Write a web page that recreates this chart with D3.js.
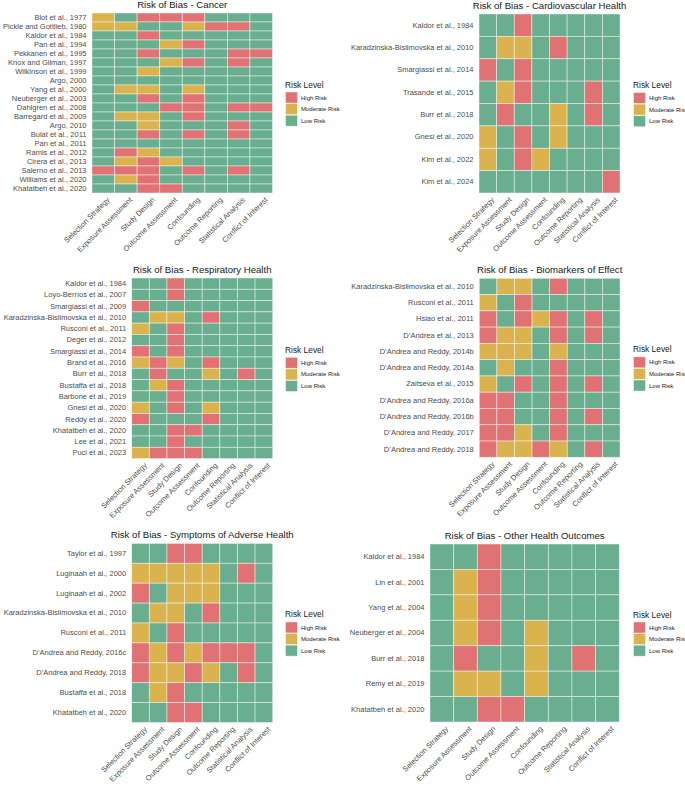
<!DOCTYPE html>
<html><head><meta charset="utf-8">
<script src="https://cdn.jsdelivr.net/npm/d3@7"></script>
<style>
html,body{margin:0;padding:0;background:#fff;}
text{font-family:"Liberation Sans",Arial,sans-serif;}
</style></head>
<body><svg id="c" width="685" height="787"></svg>
<script>
const categories = ["Selection Strategy","Exposure Assessment","Study Design","Outcome Assessment","Confounding","Outcome Reporting","Statistical Analysis","Conflict of Interest"];
const levelCodes = ["H","M","L"];
const levelNames = ["High Risk","Moderate Risk","Low Risk"];
const levelColors = ["#E07274","#DAB34F","#68AE8F"];

const cancerStudies = ["Blot et al., 1977","Pickle and Gottlieb, 1980","Kaldor et al., 1984","Pan et al., 1994","Pekkanen et al., 1995","Knox and Gilman, 1997","Wilkinson et al., 1999","Argo, 2000","Yang et al., 2000","Neuberger et al., 2003","Dahlgren et al., 2008","Barregard et al., 2009","Argo, 2010","Bulat et al., 2011","Pan et al., 2011","Ramis et al., 2012","Cirera et al., 2013","Salerno et al., 2013","Williams et al., 2020","Khatatbeh et al., 2020"];
const cancerRatings = ["MLHHHLLL","MMLLMHHL","LLHLLLLL","LLLMHLLL","LLHLLLHH","LLLMHLHL","LLMLLLLL","LLLLLLLL","LMMLMLLL","LLHLHLLL","LLLHHLHH","LMMLHLLL","LLMLLLHL","LLHLHLHL","LLLLLLLL","LHMLLLLL","LMHMLLLL","HHHLHLHL","LMHLLLLL","LLHHLLLL"];

const cardioStudies = ["Kaldor et al., 1984","Karadzinska-Bislimovska et al., 2010","Smargiassi et al., 2014","Trasande et al., 2015","Burr et al., 2018","Gnesi et al., 2020","Kim et al., 2022","Kim et al., 2024"];
const cardioRatings = ["LLHLLLLL","LMMLHLLL","HLHLLLLL","LMHLLLHL","LHLLMLHL","MLHLMLLL","MLHMLLLL","LLLLLLLH"];

const respStudies = ["Kaldor et al., 1984","Loyo-Berríos et al., 2007","Smargiassi et al., 2009","Karadzinska-Bislimovska et al., 2010","Rusconi et al., 2011","Deger et al., 2012","Smargiassi et al., 2014","Brand et al., 2016","Burr et al., 2018","Bustaffa et al., 2018","Barbone et al., 2019","Gnesi et al., 2020","Reddy et al., 2020","Khatatbeh et al., 2020","Lee et al., 2021","Puci et al., 2023"];
const respRatings = ["LLHLLLLL","LLHLLLLL","HLLLLLLL","LMMLHLLL","MLHLLLLL","LLHLLLLL","HLHLLLLL","MHMLHLLL","LHLLMLHL","LMHLLLLL","LLHLLLLL","MLHLMLLL","HLLLHLLL","LLHHLLLL","LLHLLLLL","MHHHLLLL"];

const bioStudies = ["Karadzinska-Bislimovska et al., 2010","Rusconi et al., 2011","Hsiao et al., 2011","D’Andrea et al., 2013","D’Andrea and Reddy, 2014b","D’Andrea and Reddy, 2014a","Zaitseva et al., 2015","D’Andrea and Reddy, 2016a","D’Andrea and Reddy, 2016b","D’Andrea and Reddy, 2017","D’Andrea and Reddy, 2018"];
const bioRatings = ["LMMLHLLL","MLHLLLLL","HLHMHLHL","HMMLHLHL","MMMLMLLL","LMLLHLLL","MLHLHLHL","HHLLHLLL","HHLLHLHL","HHMLHLLL","HMMHMLHL"];

const sympStudies = ["Taylor et al., 1997","Luginaah et al., 2000","Luginaah et al., 2002","Karadzinska-Bislimovska et al., 2010","Rusconi et al., 2011","D’Andrea and Reddy, 2016c","D’Andrea and Reddy, 2018","Bustaffa et al., 2018","Khatatbeh et al., 2020"];
const sympRatings = ["LLHHLLLL","MMMMMLHL","HLMMMLLL","LMMLHLLL","MLHLLLLL","HMHMHHHL","HMMHMLHL","LMHLLLLL","LLHHLLLL"];

const otherStudies = ["Kaldor et al., 1984","Lin et al., 2001","Yang et al., 2004","Neuberger et al., 2004","Burr et al., 2018","Remy et al., 2019","Khatatbeh et al., 2020"];
const otherRatings = ["LLHLLLLL","LMHLLLLL","LMHLLLLL","LMHLMLLL","LHLLMLHL","LMMLMLLL","LLHHLLLL"];

const panels = [
  {title:"Risk of Bias - Cancer", studies:cancerStudies, ratings:cancerRatings, box:[92,13,272.5,193], legX:285},
  {title:"Risk of Bias - Cardiovascular Health", studies:cardioStudies, ratings:cardioRatings, box:[479,14,620,193], legX:633},
  {title:"Risk of Bias - Respiratory Health", studies:respStudies, ratings:respRatings, box:[131.7,278,272.7,458.6], legX:285},
  {title:"Risk of Bias - Biomarkers of Effect", studies:bioStudies, ratings:bioRatings, box:[479.3,278.3,620,457.3], legX:633},
  {title:"Risk of Bias - Symptoms of Adverse Health", studies:sympStudies, ratings:sympRatings, box:[131.7,543.4,272.7,722.5], legX:285},
  {title:"Risk of Bias - Other Health Outcomes", studies:otherStudies, ratings:otherRatings, box:[430,544,619.3,722], legX:633}
];

const svg = d3.select("#c");
const color = d3.scaleOrdinal().domain(levelCodes).range(levelColors);

panels.forEach(p => {
  const [x0,y0,x1,y1] = p.box;
  const x = d3.scaleBand().domain(categories).range([x0,x1]);
  const y = d3.scaleBand().domain(p.studies).range([y0,y1]);
  const g = svg.append("g");
  const cells = [];
  p.studies.forEach((s,i) => p.ratings[i].split("").forEach((c,j) => cells.push({s, cat:categories[j], c})));
  g.selectAll("rect.cell").data(cells).join("rect")
    .attr("class","cell")
    .attr("x", d => x(d.cat)).attr("y", d => y(d.s))
    .attr("width", x.bandwidth()).attr("height", y.bandwidth())
    .attr("fill", d => color(d.c))
    .attr("stroke","#ffffff").attr("stroke-opacity",0.55).attr("stroke-width",0.8);

  g.append("text").attr("x",(x0+x1)/2).attr("y",y0-5.5)
    .attr("text-anchor","middle").attr("font-size",9.6).attr("fill","#1a1a1a").text(p.title);

  const ya = g.append("g").attr("transform",`translate(${x0},0)`)
    .call(d3.axisLeft(y).tickSize(0).tickPadding(5.5));
  ya.select(".domain").remove();
  ya.selectAll("text").attr("font-size",7.5).attr("fill","#4D4D4D").style("font-family","'Liberation Sans',Arial,sans-serif");

  const xa = g.append("g").attr("transform",`translate(0,${y1})`)
    .call(d3.axisBottom(x).tickSize(0));
  xa.select(".domain").remove();
  xa.selectAll("text")
    .attr("x",0).attr("y",0).attr("dy","0.72em")
    .attr("text-anchor","end")
    .attr("transform","translate(3,3.5) rotate(-45)")
    .attr("font-size",7.5).attr("fill","#4D4D4D").style("font-family","'Liberation Sans',Arial,sans-serif");

  const gc = (y0+y1)/2;
  const lg = g.append("g").attr("transform",`translate(${p.legX},${gc})`);
  lg.append("text").attr("x",0).attr("y",-15.5).attr("font-size",8.4).attr("fill","#1a1a1a").text("Risk Level");
  levelCodes.forEach((c,i) => {
    lg.append("rect").attr("x",0.5).attr("y",-11+i*11.6).attr("width",12).attr("height",11)
      .attr("fill",color(c)).attr("stroke","#ffffff").attr("stroke-opacity",0.55).attr("stroke-width",0.8);
    lg.append("text").attr("x",16).attr("y",-11+i*11.6+5.5).attr("dy","0.35em")
      .attr("font-size",6).attr("fill","#1a1a1a").text(levelNames[i]);
  });
});
</script></body></html>
